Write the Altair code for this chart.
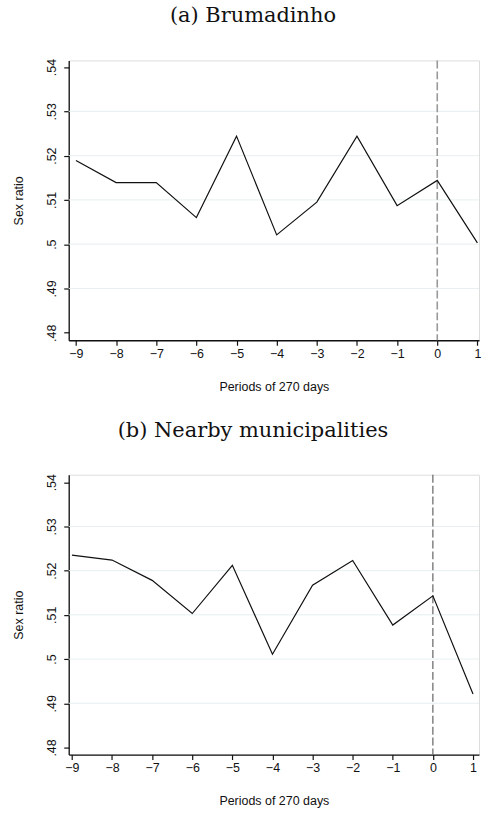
import altair as alt
import pandas as pd

periods = [-9, -8, -7, -6, -5, -4, -3, -2, -1, 0, 1]
brumadinho = [0.5189, 0.5139, 0.5139, 0.5060, 0.5244, 0.5021, 0.5095, 0.5244, 0.5087, 0.5144, 0.5003]
nearby = [0.5235, 0.5224, 0.5178, 0.5103, 0.5212, 0.5011, 0.5167, 0.5223, 0.5077, 0.5143, 0.4921]
y_ticks = [0.48, 0.49, 0.50, 0.51, 0.52, 0.53, 0.54]
grid_values = [0.49, 0.50, 0.51, 0.52, 0.53]
event_period = [0]
titles = ["(a) Brumadinho", "(b) Nearby municipalities"]

SANS = "Liberation Sans"
SERIF = "DejaVu Serif"


def panel(values, title, xdomain, ydomain, vcolor, vwidth):
    df = pd.DataFrame({"period": periods, "ratio": values})
    grid = alt.Chart(pd.DataFrame({"g": grid_values})).mark_rule(
        color="#e6eff0", strokeWidth=1
    ).encode(y=alt.Y("g:Q", scale=alt.Scale(domain=ydomain)))
    xs = alt.X(
        "period:Q",
        scale=alt.Scale(domain=xdomain, nice=False, zero=False),
        axis=alt.Axis(
            values=periods, format="d", title="Periods of 270 days",
            labelFont=SANS, titleFont=SANS, labelFontSize=12.5, titleFontSize=12.5,
            titleFontWeight="normal", labelColor="#111", titleColor="#111",
            domainColor="#111", tickColor="#111", domainWidth=1.3, tickWidth=1.2,
            tickSize=5, labelPadding=2, titlePadding=21, grid=False,
        ),
    )
    ys = alt.Y(
        "ratio:Q",
        scale=alt.Scale(domain=ydomain, nice=False, zero=False),
        axis=alt.Axis(
            values=y_ticks, title="Sex ratio",
            labelExpr="replace(format(datum.value, '.2~f'), /^0/, '')",
            labelAngle=270, labelAlign="center", labelBaseline="bottom",
            labelFont=SANS, titleFont=SANS, labelFontSize=12.5, titleFontSize=12.5,
            titleFontWeight="normal", labelColor="#111", titleColor="#111",
            domainColor="#111", tickColor="#111", domainWidth=1.3, tickWidth=1.2,
            tickSize=5, labelPadding=5, titlePadding=20, grid=False,
        ),
    )
    vline = alt.Chart(pd.DataFrame({"p": event_period})).mark_rule(
        color=vcolor, strokeWidth=vwidth, strokeDash=[8, 3]
    ).encode(x=alt.X("p:Q", scale=alt.Scale(domain=xdomain)))
    line = alt.Chart(df).mark_line(color="#111", strokeWidth=1.2, clip=True).encode(x=xs, y=ys)
    return alt.layer(grid, vline, line).properties(
        width=412, height=281,
        title=alt.TitleParams(title, font=SERIF, fontSize=21, fontWeight="normal",
                              color="#111", anchor="middle", offset=33, dx=-21),
    )


a = panel(brumadinho, titles[0], [-9.18, 1.04], [0.4783, 0.5415], "#999999", 1.6)
b = panel(nearby, titles[1], [-9.08, 1.15], [0.4784, 0.5417], "#555555", 1.1)

chart = alt.vconcat(a, b, spacing=25).properties(
    padding={"left": 12, "right": 0, "top": 2, "bottom": 0}
).configure_view(stroke=None).configure(background="white")

chart.save("out.html", embed_options={"renderer": "svg", "actions": False})
